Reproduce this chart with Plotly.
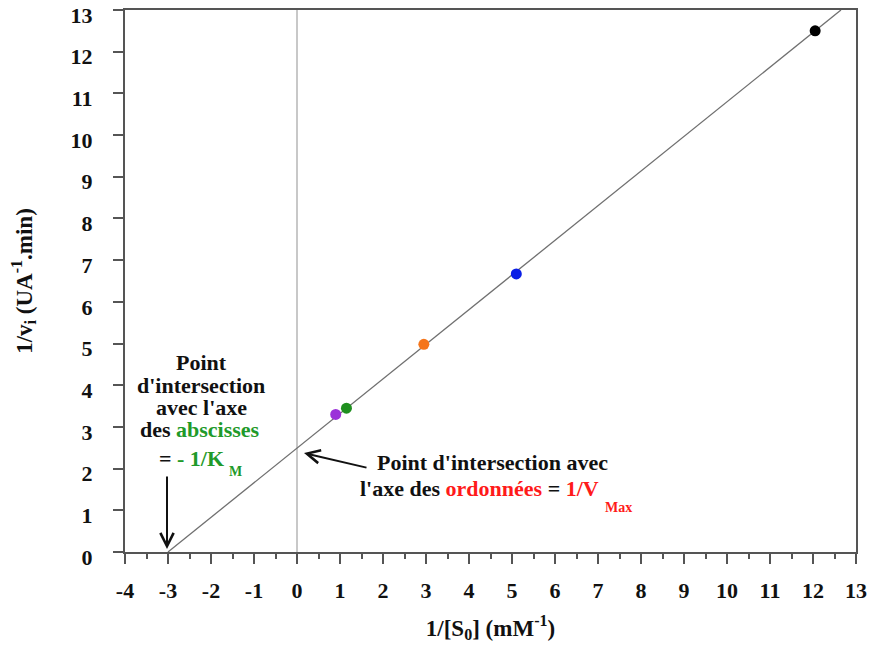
import plotly.graph_objects as go

# Data
inv_s0 = [0.9, 1.15, 2.95, 5.1, 12.05]
inv_v = [3.3, 3.45, 4.98, 6.67, 12.5]
point_colors = ["#9b30d9", "#1f8f1f", "#f5751a", "#0a1ee6", "#000000"]
line_x = [-3, 12.65]
line_y = [0, 13]
x_ticks = list(range(-4, 14))
y_ticks = list(range(0, 14))

FONT = "Liberation Serif, Times New Roman, Times, serif"
GREEN = "#1f9a2a"
RED = "#ff1a1a"
INK = "#111111"
AX = "#555555"

# page pixel -> data coordinate helpers for annotation placement
X0P, X1P, Y0P, Y1P = 125.0, 856.0, 552.0, 10.0
def px2x(px):
    return -4 + (px - X0P) * 17 / (X1P - X0P)
def py2y(py):
    return (Y0P - py) * 13 / (Y0P - Y1P)

fig = go.Figure()
fig.add_trace(go.Scatter(x=[0, 0], y=[0, 13], mode="lines",
                         line=dict(color="#c8c8c8", width=2), hoverinfo="skip", showlegend=False))
fig.add_trace(go.Scatter(x=line_x, y=line_y, mode="lines",
                         line=dict(color="#707070", width=1.3), showlegend=False))
fig.add_trace(go.Scatter(x=inv_s0, y=inv_v, mode="markers",
                         marker=dict(color=point_colors, size=11), showlegend=False))

tickfont = dict(family=FONT, size=22, color=INK, weight="bold")
axis_common = dict(showgrid=False, zeroline=False, showline=True, linecolor=AX,
                   linewidth=2, mirror=True, ticks="outside", ticklen=10, tickwidth=2,
                   tickcolor=AX, automargin=False, tickfont=tickfont,
                   ticklabeloverflow="allow")

fig.update_xaxes(range=[-4, 13], tickvals=x_ticks, ticktext=[str(v) for v in x_ticks],
                 ticklabelstandoff=8,
                 minor=dict(ticks="outside", ticklen=5, tickwidth=2, tickcolor=AX, dtick=0.5),
                 title=dict(text="1/[S<sub>0</sub>] (mM<sup>-1</sup>)",
                            font=dict(family=FONT, size=23, color=INK, weight="bold"),
                            standoff=17),
                 **axis_common)
fig.update_yaxes(range=[0, 13], tickvals=y_ticks, ticktext=[str(v) for v in y_ticks],
                 ticklabelstandoff=16, ticklabelshift=5,
                 title=dict(text="1/v<sub>i</sub> (UA<sup>-1</sup>.min)",
                            font=dict(family=FONT, size=23, color=INK, weight="bold"),
                            standoff=32),
                 **axis_common)

fig.update_layout(
    width=871, height=648,
    margin=dict(l=125, r=15, t=10, b=96),
    plot_bgcolor="white", paper_bgcolor="white",
    font=dict(family=FONT, size=22, color=INK),
)

annfont = dict(family=FONT, size=22, color=INK, weight="bold")
subfont = dict(family=FONT, size=14, weight="bold")

def txt(px, py, text, xanchor="center", font=annfont):
    fig.add_annotation(x=px2x(px), y=py2y(py), xref="x", yref="y", xanchor=xanchor,
                       yanchor="middle", showarrow=False, text=text, font=font)

# left block
txt(201, 362, "Point")
txt(201, 385, "d'intersection")
txt(201, 407, "avec l'axe")
txt(200, 429, f"des <span style='color:{GREEN}'>abscisses</span>")
txt(226, 458, f"= <span style='color:{GREEN}'>- 1/K</span>", xanchor="right")
txt(227, 471, "M", xanchor="left", font=dict(subfont, color=GREEN))

# right block
txt(492, 462, "Point d'intersection avec")
txt(601, 488, f"l'axe des <span style='color:{RED}'>ordonnées</span> = "
              f"<span style='color:{RED}'>1/V</span>", xanchor="right")
txt(603, 507, "Max", xanchor="left", font=dict(subfont, color=RED))

# arrows
fig.add_annotation(x=px2x(167), y=py2y(549), ax=px2x(167), ay=py2y(475),
                   xref="x", yref="y", axref="x", ayref="y",
                   text="", showarrow=True, arrowhead=5, arrowsize=1.3, arrowwidth=2,
                   arrowcolor=INK)
fig.add_annotation(x=px2x(304), y=py2y(453), ax=px2x(368), ay=py2y(468),
                   xref="x", yref="y", axref="x", ayref="y",
                   text="", showarrow=True, arrowhead=5, arrowsize=1.3, arrowwidth=2,
                   arrowcolor=INK)

fig.write_html("out.html", config={"displayModeBar": False},
               post_script="document.body.style.margin='0';document.body.style.overflow='hidden';")
